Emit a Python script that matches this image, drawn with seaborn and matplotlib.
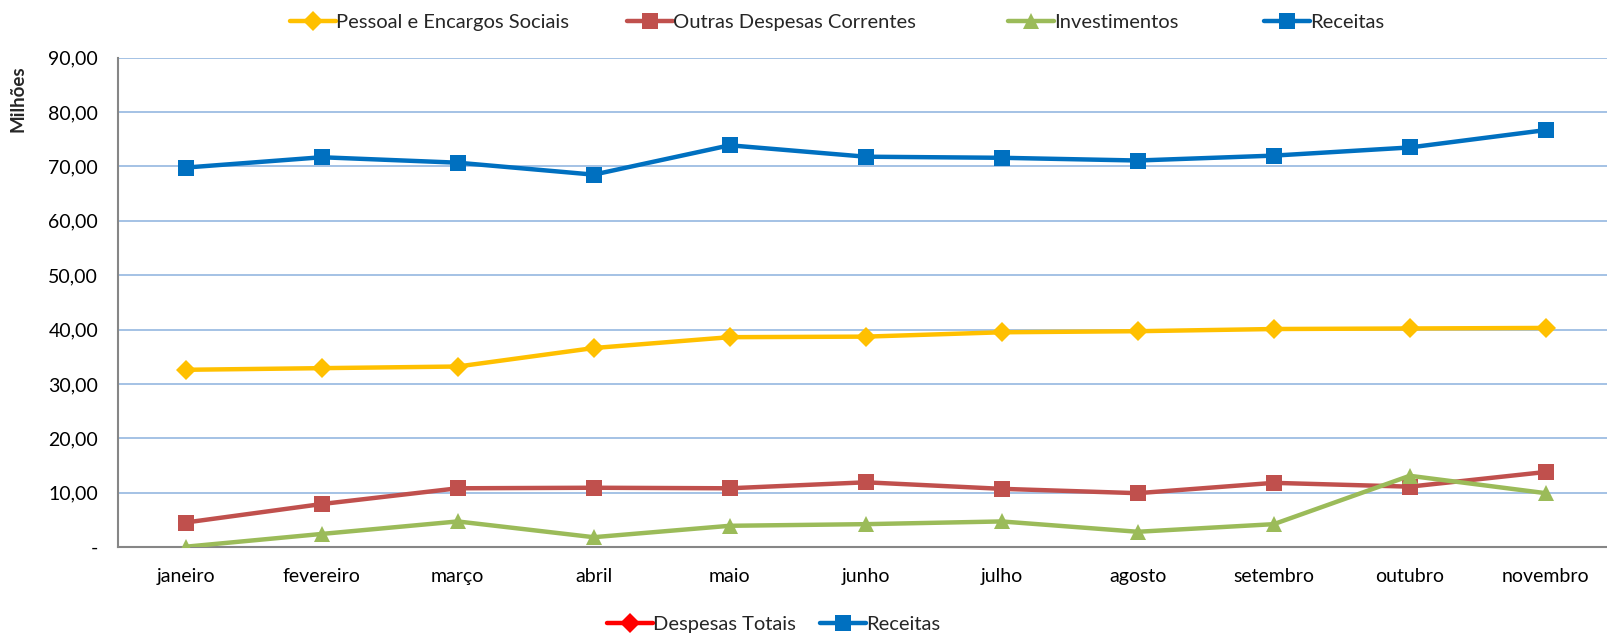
import numpy as np
import pandas as pd
import matplotlib
matplotlib.use('Agg')
import matplotlib.pyplot as plt
from matplotlib.lines import Line2D
from matplotlib.ticker import FuncFormatter, FixedLocator
import seaborn as sns

# Data (in millions)
meses = ['janeiro', 'fevereiro', 'março', 'abril', 'maio', 'junho',
         'julho', 'agosto', 'setembro', 'outubro', 'novembro']
pessoal = [32.6, 32.9, 33.2, 36.6, 38.6, 38.7, 39.5, 39.7, 40.1, 40.2, 40.3]
outras = [4.5, 7.9, 10.8, 10.9, 10.8, 11.9, 10.7, 9.9, 11.8, 11.1, 13.8]
investimentos = [0.05, 2.4, 4.7, 1.8, 3.9, 4.2, 4.7, 2.8, 4.2, 13.1, 9.9]
receitas = [69.8, 71.7, 70.7, 68.5, 73.9, 71.8, 71.6, 71.1, 72.0, 73.5, 76.7]

series = {
    'Pessoal e Encargos Sociais': (pessoal, '#FFC000', 'D'),
    'Outras Despesas Correntes': (outras, '#C0504D', 's'),
    'Investimentos': (investimentos, '#9BBB59', '^'),
    'Receitas': (receitas, '#0070C0', 's'),
}

sns.set_style('white')
plt.rcParams['font.family'] = ['Lato', 'DejaVu Sans']

fig = plt.figure(figsize=(16.07, 6.37), dpi=100)
ax = fig.add_axes([0.0732, 0.1413, 0.931, 0.768])

x = np.arange(len(meses))
for name, (vals, color, mk) in series.items():
    df = pd.DataFrame({'x': x, 'y': vals})
    msize = 11 if mk != 'D' else 10
    sns.lineplot(data=df, x='x', y='y', ax=ax, color=color, linewidth=3.2,
                 marker=mk, markersize=msize, markeredgewidth=0, zorder=3)

ax.set_xlim(-0.5, len(meses) - 0.5)
ax.set_ylim(0, 90)
ax.set_yticks(np.arange(0, 91, 10))
ax.yaxis.set_major_formatter(FuncFormatter(
    lambda v, p: '-' if v == 0 else f'{v:.2f}'.replace('.', ',')))
ax.set_xticks(x)
ax.set_xticklabels(meses)
ax.xaxis.set_minor_locator(FixedLocator(np.arange(-0.5, len(meses), 1)))
ax.tick_params(axis='x', which='major', length=0, labelsize=14, pad=15, colors='black')
ax.tick_params(axis='x', which='minor', length=6, width=1, color='#868686')
ax.tick_params(axis='y', which='major', length=6, width=1, color='#868686',
               labelsize=14, labelcolor='black', pad=8)

ax.grid(axis='y', color='#9DBDE3', linewidth=1.3)
ax.set_axisbelow(True)
for s in ['top', 'right']:
    ax.spines[s].set_visible(False)
for s in ['left', 'bottom']:
    ax.spines[s].set_color('#868686')
    ax.spines[s].set_linewidth(1.5)

ax.set_xlabel('')
ax.set_ylabel('')
fig.text(0.0115, 0.845, 'Milhões', rotation=90, fontsize=13.5, fontweight='bold',
         ha='center', va='center')


def legend_entry(label, color, marker, xpos, ypos):
    ms = 11 if marker != 'D' else 10
    h = Line2D([], [], color=color, marker=marker, linewidth=3.2,
               markersize=ms, markeredgewidth=0)
    fig.legend([h], [label], loc='center left', bbox_to_anchor=(xpos, ypos),
               frameon=False, fontsize=14.5, handlelength=2.3, handletextpad=0.0,
               borderpad=0, borderaxespad=0)


# Top legend
top_x = [290 / 1607, 627 / 1607, 1008 / 1607, 1264 / 1607]
for (name, (_, c, m)), xp in zip(series.items(), top_x):
    legend_entry(name, c, m, xp, 0.965)

# Bottom legend
legend_entry('Despesas Totais', '#FF0000', 'D', 607 / 1607, 0.019)
legend_entry('Receitas', '#0070C0', 's', 820 / 1607, 0.019)

fig.savefig('out.png', dpi=100)
